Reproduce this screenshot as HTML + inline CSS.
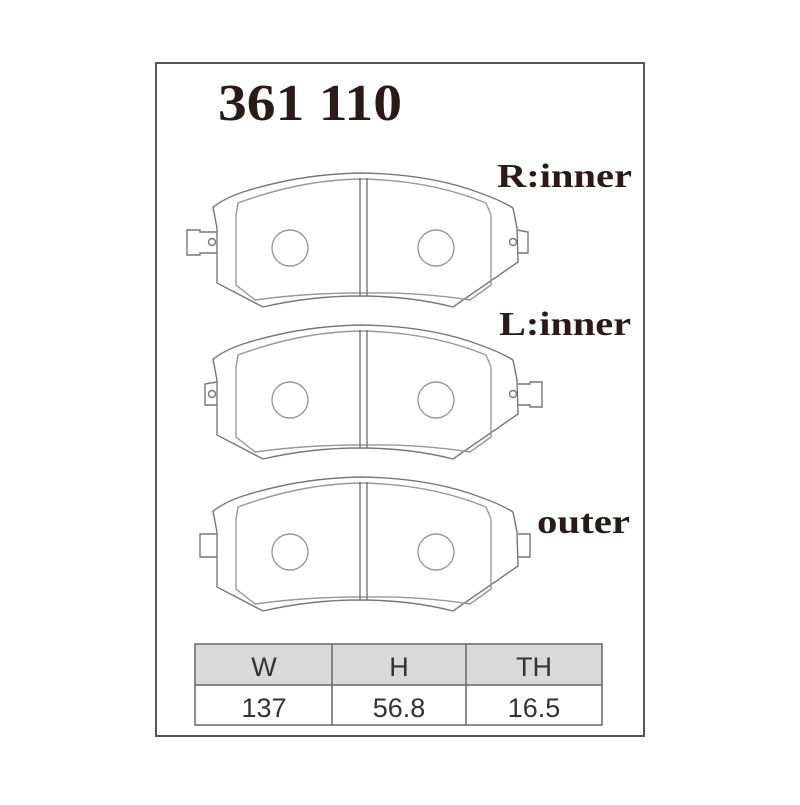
<!DOCTYPE html>
<html><head><style>
body{margin:0;background:#fff;width:800px;height:800px;overflow:hidden}
</style></head><body>
<svg width="800" height="800" xmlns="http://www.w3.org/2000/svg">
<defs>
<g id="body" fill="none" stroke="#777" stroke-width="1.4">
<path d="M213,207 Q225,198 243,192 Q300,174 360,173 Q430,174 480,193 Q500,200 513,208 L517,228 L518,262 L453,307 Q410,296 360,296 Q310,296 263,307 L217,283 L217,228 Z"/>
<path d="M238,203 Q300,180 360,179 Q430,180 486,203 L491,215 L491,285 L470,300 Q420,292 367,293 L360,293 Q305,293 255,300 L236,285 L236,215 Z" stroke="#999"/>
<line x1="360" y1="178" x2="360" y2="296"/><line x1="367" y1="178" x2="367" y2="296"/>
<circle cx="290" cy="248" r="18" stroke="#999"/><circle cx="436" cy="248" r="18" stroke="#999"/>
</g>
</defs>
<rect x="156" y="63" width="488" height="673" fill="none" stroke="#555" stroke-width="2"/>
<text x="218" y="120" textLength="184" lengthAdjust="spacingAndGlyphs" font-family="Liberation Serif, serif" font-weight="bold" font-size="52" fill="#2a1a18">361 110</text>
<g font-family="Liberation Serif, serif" font-weight="bold" font-size="34" fill="#2a1a18" lengthAdjust="spacingAndGlyphs">
<text x="497" y="187" textLength="135" lengthAdjust="spacingAndGlyphs">R:inner</text>
<text x="499" y="335" textLength="132" lengthAdjust="spacingAndGlyphs">L:inner</text>
<text x="537" y="533" textLength="93" lengthAdjust="spacingAndGlyphs">outer</text>
</g>
<use href="#body"/>
<g fill="none" stroke="#777" stroke-width="1.4">
<path d="M217,232 L200,232 L200,230 L187,230 L187,255 L200,255 L200,253 L217,253"/>
<circle cx="212" cy="242" r="3.5"/>
<path d="M517,230 L528,232 L528,253 L518,253"/>
<circle cx="513" cy="242" r="3.5"/>
</g>
<use href="#body" y="152"/>
<g fill="none" stroke="#777" stroke-width="1.4" transform="translate(0,152)">
<path d="M217,230 L205,232 L205,253 L217,253"/>
<circle cx="212" cy="242" r="3.5"/>
<path d="M518,232 L530,232 L530,230 L542,230 L542,255 L530,255 L530,253 L518,253"/>
<circle cx="513" cy="242" r="3.5"/>
</g>
<use href="#body" y="304"/>
<g fill="none" stroke="#777" stroke-width="1.4" transform="translate(0,304)">
<path d="M217,230 L200,230 L200,253 L217,253"/>
<path d="M518,230 L530,230 L530,253 L518,253"/>
</g>
<rect x="195" y="644" width="407" height="41" fill="#d9d9d9"/>
<g stroke="#666" stroke-width="1.5" fill="none">
<rect x="195" y="644" width="407" height="81"/>
<line x1="195" y1="685" x2="602" y2="685"/>
<line x1="332" y1="644" x2="332" y2="725"/>
<line x1="466" y1="644" x2="466" y2="725"/>
</g>
<g font-family="Liberation Sans, sans-serif" font-size="27" fill="#333" text-anchor="middle">
<text x="264" y="676">W</text><text x="399" y="676">H</text><text x="534" y="676">TH</text>
<text x="264" y="717">137</text><text x="399" y="717">56.8</text><text x="534" y="717">16.5</text>
</g>
</svg>
</body></html>
